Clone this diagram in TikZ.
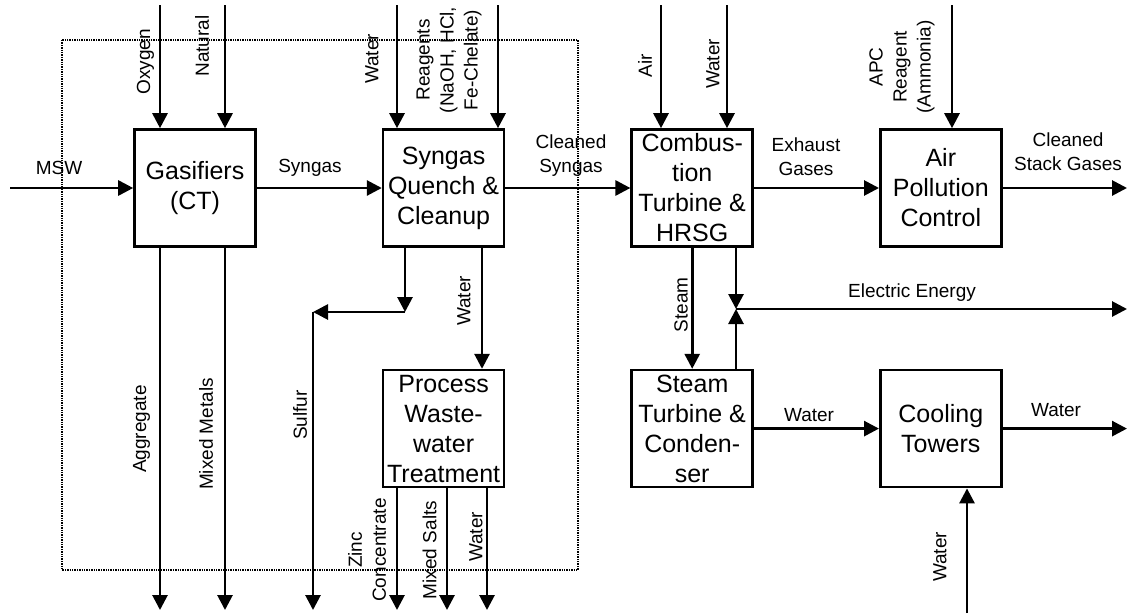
\documentclass[tikz,border=0pt]{standalone}
\usepackage{fontspec}
\setmainfont{Liberation Sans}
\usetikzlibrary{positioning,arrows.meta}

\begin{document}
\begin{tikzpicture}[x=1pt, y=-1pt,
  pbox/.style={draw=black, line width=2.6pt, minimum width=121pt, minimum height=117pt,
               inner sep=0pt, align=center, font=\fontsize{25}{30}\selectfont},
  lbl/.style={font=\fontsize{19}{24}\selectfont, align=center, inner sep=0pt},
  vlbl/.style={lbl, rotate=90},
  flow/.style={-{Triangle[length=15pt,width=15pt]}, line width=2.8pt},
  border/.style={line width=1.6pt, dash pattern=on 1.4pt off 1pt}
]
\fill[white] (0,0) rectangle (1129,613);
\useasboundingbox (0,0) rectangle (1129,613);

% process boxes
\node[pbox] (gas) at (195,188) {Gasifiers\\(CT)};
\node[pbox, right=125pt of gas] (quench) {Syngas\\Quench \&\\Cleanup};
\node[pbox, right=125pt of quench] (comb) {Combus-\\tion\\Turbine \&\\HRSG};
\node[pbox, right=125pt of comb] (apc) {Air\\Pollution\\Control};
\node[pbox, below=121pt of quench] (pwt) {Process\\Waste-\\water\\Treatment};
\node[pbox, below=121pt of comb] (stc) {Steam\\Turbine \&\\Conden-\\ser};
\node[pbox, below=121pt of apc] (cool) {Cooling\\Towers};

% plant boundary
\draw[border] (62,40) rectangle (578,570);

% free ends and junctions
\coordinate (msw) at (10,188);
\coordinate (oxy) at (160,5);
\coordinate (ng) at (225,5);
\coordinate (qw) at (397,5);
\coordinate (reag) at (498,5);
\coordinate (air) at (661,5);
\coordinate (cw) at (727,5);
\coordinate (apcr) at (952,5);
\coordinate (stack) at (1127,188);
\coordinate (agg) at (160,610);
\coordinate (met) at (225,610);
\coordinate (sj) at (405,312);
\coordinate (sc) at (313,312);
\coordinate (sul) at (313,610);
\coordinate (pw) at (482,300);
\coordinate (zinc) at (397,610);
\coordinate (salt) at (447,610);
\coordinate (ww) at (487,610);
\coordinate (elec) at (736,309);
\coordinate (eout) at (1127,309);
\coordinate (cout) at (1127,432);
\coordinate (cin) at (967,613);

% main gas line
\draw[flow] (msw) -- (gas);
\draw[flow] (gas) -- (quench);
\draw[flow] (quench) -- (comb);
\draw[flow] (comb) -- (apc);
\draw[flow] (apc) -- (stack);

% feeds from above
\draw[flow] (oxy) -- (oxy |- gas.north);
\draw[flow] (ng) -- (ng |- gas.north);
\draw[flow] (qw) -- (qw |- quench.north);
\draw[flow] (reag) -- (reag |- quench.north);
\draw[flow] (air) -- (air |- comb.north);
\draw[flow] (cw) -- (cw |- comb.north);
\draw[flow] (apcr) -- (apcr |- apc.north);

% solid and liquid products
\draw[flow] (gas.south -| agg) -- (agg);
\draw[flow] (gas.south -| met) -- (met);
\draw[flow] (quench.south -| sj) -- (sj);
\draw[flow] (sj) -- (sc);
\draw[flow] (sc) -- (sul);
\draw[flow] (quench.south -| pw) -- (pwt.north -| pw);
\draw[flow] (pwt.south -| zinc) -- (zinc);
\draw[flow] (pwt.south -| salt) -- (salt);
\draw[flow] (pwt.south -| ww) -- (ww);

% power block
\draw[flow] (comb) -- (stc);
\draw[flow] (comb.south -| elec) -- (elec);
\draw[flow] (stc.north -| elec) -- (elec);
\draw[flow] (elec) -- (eout);
\draw[flow] (stc) -- (cool);
\draw[flow] (cool) -- (cool -| cout);
\draw[flow] (cin) -- (cin |- cool.south);

% labels
\node[lbl] (lmsw) at (59,168) {MSW};
\node[lbl] (lsyn) at (310,168) {Syngas};
\node[vlbl] (loxy) at (145.5,62) {Oxygen};
\node[vlbl] (lng) at (202,46) {Natural};
\node[vlbl] (lqw) at (372,59) {Water};
\node[vlbl] (lreag) at (449,60) {Reagents\\(NaOH, HCl,\\Fe-Chelate)};
\node[lbl] (lcln) at (571,156) {Cleaned\\Syngas};
\node[vlbl] (lair) at (645,66) {Air};
\node[vlbl] (lcw) at (713,64) {Water};
\node[vlbl] (lapc) at (902,67) {APC\\Reagent\\(Ammonia)};
\node[lbl] (lexh) at (806,157) {Exhaust\\Gases};
\node[lbl] (lstk) at (1068,152) {Cleaned\\Stack Gases};
\node[vlbl] (lagg) at (141.5,429) {Aggregate};
\node[vlbl] (lmet) at (206,434) {Mixed Metals};
\node[vlbl] (lsul) at (300,415) {Sulfur};
\node[vlbl] (lpw) at (464,301) {Water};
\node[vlbl] (lzinc) at (367,550) {Zinc\\Concentrate};
\node[vlbl] (lsalt) at (429.5,550) {Mixed Salts};
\node[vlbl] (lww) at (476,537) {Water};
\node[vlbl] (lstm) at (681,305) {Steam};
\node[lbl] (lel) at (912,293) {Electric Energy};
\node[lbl] (lsw) at (809,415) {Water};
\node[lbl] (lcow) at (1056,410) {Water};
\node[vlbl] (lciw) at (940,557) {Water};

\end{tikzpicture}
\end{document}
